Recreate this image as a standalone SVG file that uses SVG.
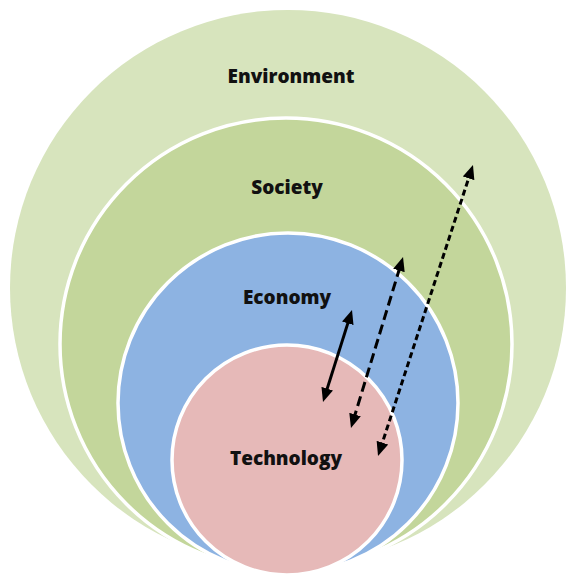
<svg xmlns="http://www.w3.org/2000/svg" width="566" height="575" viewBox="0 0 566 575">
  <style>
    .lbl { font-family: "Open Sans", "Liberation Sans", sans-serif; font-weight: 800; font-size: 19px; fill: #111111; text-anchor: middle; }
    .ring { stroke: #ffffff; stroke-width: 3.5; }
    .conn { stroke: #000000; stroke-width: 3; fill: none; }
  </style>
  <defs>
    <marker id="head" viewBox="0 0 14 12" markerWidth="14" markerHeight="12" markerUnits="userSpaceOnUse" refX="6" refY="6" orient="auto-start-reverse">
      <path d="M0,0 L14,6 L0,12 z" fill="#000000"/>
    </marker>
  </defs>
  <rect width="566" height="575" fill="#ffffff"/>
  <g id="environment">
    <circle cx="288" cy="288" r="278" fill="#d7e4bd"/>
    <text class="lbl" x="291" y="83">Environment</text>
  </g>
  <g id="society">
    <circle class="ring" cx="286" cy="344" r="226" fill="#c3d69b"/>
    <text class="lbl" x="287" y="194">Society</text>
  </g>
  <g id="economy">
    <circle class="ring" cx="288" cy="403" r="170" fill="#8db3e2"/>
    <text class="lbl" x="287" y="304">Economy</text>
  </g>
  <g id="technology">
    <circle class="ring" cx="287" cy="460" r="115" fill="#e6b9b8"/>
    <text class="lbl" x="286" y="465">Technology</text>
  </g>
  <g id="connectors">
    <line class="conn" x1="325.4" y1="394.4" x2="349.6" y2="317.6" marker-start="url(#head)" marker-end="url(#head)"/>
    <line class="conn" x1="353.3" y1="420.3" x2="400.7" y2="264.7" stroke-dasharray="10 5" marker-start="url(#head)" marker-end="url(#head)"/>
    <line class="conn" x1="380.5" y1="448.4" x2="470.5" y2="172.6" stroke-dasharray="6 3.5" marker-start="url(#head)" marker-end="url(#head)"/>
  </g>
</svg>
